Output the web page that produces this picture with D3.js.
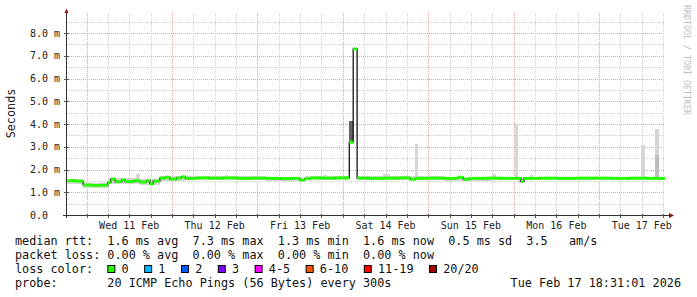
<!DOCTYPE html>
<html>
<head>
<meta charset="utf-8">
<script src="https://cdn.jsdelivr.net/npm/d3@7"></script>
<style>
body { margin: 0; background: #fff; }
svg { display: block; font-family: "DejaVu Sans Mono", monospace; }
text { white-space: pre; }
</style>
</head>
<body>
<svg id="chart" width="697" height="297"></svg>
<script>
// one week window, ends at the probe time
var startTime = new Date(2026, 1, 10, 18, 31, 1);
var endTime = new Date(2026, 1, 17, 18, 31, 1);
var spanHours = 168;

// median rtt (ms), step values, hours after startTime
var medHour = [0, 2.5, 4.5, 7.0, 9.5, 11.5, 12.3, 13.5, 15.4, 16.3, 18.6, 20.5, 22.4, 23.3, 24.2,
  26.1, 27.5, 28.9, 30.8, 32.2, 33.2, 36.5, 40, 44, 48, 52, 56, 60, 63, 65.4,
  66.8, 68.5, 72, 75.5, 79.3, 80.4, 81.5, 85, 89, 93, 96.4, 97.8, 102, 106, 109.8,
  111.3, 113.2, 118, 122, 127.5, 128.4, 133, 138, 143, 148, 153, 158, 163];
var medVal = [1.51, 1.49, 1.32, 1.30, 1.31, 1.43, 1.58, 1.47, 1.54, 1.47, 1.51, 1.45, 1.51, 1.37, 1.49,
  1.62, 1.66, 1.58, 1.63, 1.68, 1.61, 1.63, 1.62, 1.63, 1.61, 1.62, 1.61, 1.60, 1.61, 1.54,
  1.60, 1.63, 1.62, 1.63, 3.20, 7.30, 1.62, 1.61, 1.62, 1.63, 1.57, 1.61, 1.62, 1.61, 1.66,
  1.57, 1.61, 1.62, 1.61, 1.48, 1.61, 1.62, 1.61, 1.62, 1.62, 1.61, 1.62, 1.61];

// smoke (spread of the 20 pings), light layer, step values
var smokeHour = [0, 4.5, 11.5, 19.4, 20.4, 26.1, 33.2, 44.5, 45.3, 56, 65.4, 66.8, 72.3, 73.1, 79.3,
  81.5, 88.8, 90.7, 97.8, 98.5, 106, 119.3, 120.5, 125.9, 126.7, 128.4, 130.1, 131, 140, 161.2,
  162.4, 165.1, 166.3];
var smokeLo = [1.38, 1.20, 1.36, 1.36, 1.32, 1.50, 1.52, 1.52, 1.52, 1.50, 1.45, 1.52, 1.52, 1.52, 0,
  1.52, 1.52, 1.52, 1.52, 1.52, 1.51, 1.52, 1.52, 1.52, 1.40, 1.52, 1.52, 1.52, 1.52, 1.52,
  1.52, 1.52, 1.52];
var smokeHi = [1.60, 1.40, 1.62, 1.82, 1.60, 1.72, 1.70, 1.77, 1.70, 1.69, 1.62, 1.70, 1.77, 1.70, 0,
  1.70, 1.80, 1.70, 3.12, 1.70, 1.69, 1.80, 1.69, 4.00, 1.69, 1.69, 1.78, 1.69, 1.69, 3.08,
  1.69, 3.78, 1.69];

// denser smoke patches
var midStart = [165.1];
var midEnd = [166.3];
var midLo = [1.69];
var midHi = [2.64];
var darkStart = [79.3];
var darkEnd = [80.4];
var darkLo = [3.20];
var darkHi = [4.15];

// legend
var lossLabels = ["0", "1", "2", "3", "4-5", "6-10", "11-19", "20/20"];
var lossColors = ["#26ff00", "#00b8ff", "#0059ff", "#7e00ff", "#ff00ff", "#ff5500", "#ff0000", "#a10000"];
var legendLines = [
  "median rtt:  1.6 ms avg  7.3 ms max  1.3 ms min  1.6 ms now  0.5 ms sd  3.5   am/s",
  "packet loss: 0.00 % avg  0.00 % max  0.00 % min  0.00 % now",
  "loss color:",
  "probe:       20 ICMP Echo Pings (56 Bytes) every 300s"
];
var stampText = "Tue Feb 17 18:31:01 2026";

var svg = d3.select("#chart");
var plotLeft = 67, plotRight = 665, plotTop = 13, plotBottom = 215;

var x = d3.scaleTime().domain([startTime, endTime]).range([plotLeft, plotRight]);
var y = d3.scaleLinear().domain([0, 8]).range([plotBottom, 33]);

function at(h) {
  return new Date(+startTime + h * 3600e3);
}

// grid
var grid = svg.append("g");
var yGrid = d3.range(0.5, 8.51, 0.5);
grid.selectAll("line.h").data(yGrid).enter().append("line")
  .attr("x1", plotLeft).attr("x2", plotRight)
  .attr("y1", d => Math.round(y(d)) + 0.5).attr("y2", d => Math.round(y(d)) + 0.5)
  .attr("stroke", d => d % 1 === 0 ? "#e4a4a4" : "#cfcfcf")
  .attr("stroke-dasharray", "1,1");

var xGrid = d3.timeHour.every(6).range(startTime, endTime);
grid.selectAll("line.v").data(xGrid).enter().append("line")
  .attr("x1", d => Math.round(x(d)) + 0.5).attr("x2", d => Math.round(x(d)) + 0.5)
  .attr("y1", plotTop).attr("y2", plotBottom)
  .attr("stroke", d => d.getHours() === 0 ? "#e4a4a4" : "#cfcfcf")
  .attr("stroke-dasharray", "1,1");

var plot = svg.append("g");

// step bands
function bandRows(hours, lo, hi) {
  return hours.map(function(h, i) {
    return {t0: h, t1: i < hours.length - 1 ? hours[i + 1] : spanHours, lo: lo[i], hi: hi[i]};
  });
}
function drawBands(rows, color) {
  plot.append("g").selectAll("rect").data(rows.filter(d => d.hi > d.lo)).enter().append("rect")
    .attr("x", d => x(at(d.t0)))
    .attr("width", d => x(at(d.t1)) - x(at(d.t0)))
    .attr("y", d => y(d.hi))
    .attr("height", d => y(d.lo) - y(d.hi))
    .attr("fill", color)
    .attr("shape-rendering", "crispEdges");
}
drawBands(bandRows(smokeHour, smokeLo, smokeHi), "#d6d6d6");
drawBands(midStart.map((s, i) => ({t0: s, t1: midEnd[i], lo: midLo[i], hi: midHi[i]})), "#bdbdbd");
drawBands(darkStart.map((s, i) => ({t0: s, t1: darkEnd[i], lo: darkLo[i], hi: darkHi[i]})), "#646464");

// median: thin dark step line with loss-coloured segments on top
var medPts = medHour.map((h, i) => [x(at(h)), y(medVal[i])]);
medPts.push([x(endTime), y(medVal[medVal.length - 1])]);
plot.append("path")
  .attr("d", d3.line().curve(d3.curveStepAfter)(medPts))
  .attr("fill", "none").attr("stroke", "#000").attr("stroke-width", 1.2);

var medRows = bandRows(medHour, medVal, medVal);
plot.append("g").selectAll("path").data(medRows).enter().append("path")
  .attr("d", d => "M" + x(at(d.t0)) + "," + y(d.lo) + "H" + x(at(d.t1)))
  .attr("stroke", lossColors[0]).attr("stroke-width", 3).attr("fill", "none");

// axes
var axes = svg.append("g");
axes.append("line").attr("x1", 63).attr("x2", 670).attr("y1", plotBottom + 0.5).attr("y2", plotBottom + 0.5)
  .attr("stroke", "#333");
axes.append("line").attr("x1", plotLeft - 0.5).attr("x2", plotLeft - 0.5).attr("y1", 218).attr("y2", 12)
  .attr("stroke", "#333");
axes.selectAll("line.tx").data(xGrid).enter().append("line")
  .attr("x1", d => Math.round(x(d)) + 0.5).attr("x2", d => Math.round(x(d)) + 0.5)
  .attr("y1", plotBottom - 1).attr("y2", plotBottom + 3)
  .attr("stroke", "#555");
axes.selectAll("line.ty").data(d3.range(1, 8.1, 1)).enter().append("line")
  .attr("x1", plotLeft - 3).attr("x2", plotLeft + 2)
  .attr("y1", d => Math.round(y(d)) + 0.5).attr("y2", d => Math.round(y(d)) + 0.5)
  .attr("stroke", "#555");
axes.append("path").attr("d", "M64.5,13L66.5,8.5L68.5,13Z").attr("fill", "#8b1010");
axes.append("path").attr("d", "M669,213L674,215.5L669,218Z").attr("fill", "#8b1010");

// tick labels
svg.append("g").selectAll("text").data(d3.range(0, 8.1, 1)).enter().append("text")
  .attr("x", 30).attr("y", d => y(d) + 3.6)
  .attr("font-size", "10px").attr("fill", "#222")
  .text(d => d === 0 ? "0.0" : d.toFixed(1) + " m");

var days = d3.timeDay.range(d3.timeDay.ceil(startTime), endTime)
  .map(d => d3.timeHour.offset(d, 12)).filter(d => d < endTime);
svg.append("g").selectAll("text").data(days).enter().append("text")
  .attr("x", d => x(d)).attr("y", 229)
  .attr("text-anchor", "middle").attr("font-size", "10px").attr("fill", "#222")
  .text(d3.timeFormat("%a %d %b"));

svg.append("text").attr("transform", "translate(15,113.5) rotate(-90)")
  .attr("text-anchor", "middle").attr("font-size", "11.8px").attr("fill", "#222")
  .text("Seconds");
svg.append("text").attr("transform", "translate(684,5) rotate(90)")
  .attr("font-size", "8.3px").attr("fill", "#bdbdbd")
  .text("RRDTOOL / TOBI OETIKER");

// legend block
var cw = 11.8 * 0.602;
var legend = svg.append("g").attr("font-size", "11.8px").attr("fill", "#111");
legend.selectAll("text.l").data(legendLines).enter().append("text")
  .attr("x", 15).attr("y", (d, i) => 245 + i * 14)
  .attr("xml:space", "preserve")
  .text(d => d);
legend.append("text").attr("x", 681).attr("y", 245 + 3 * 14)
  .attr("text-anchor", "end").text(stampText);

var bx = 15 + 13 * cw;
lossLabels.forEach(function(lab, i) {
  legend.append("rect").attr("x", bx + 0.5).attr("y", 265.5).attr("width", 7).attr("height", 7)
    .attr("fill", lossColors[i]).attr("stroke", "#000");
  legend.append("text").attr("x", bx + 2 * cw).attr("y", 245 + 2 * 14).text(lab);
  bx += (lab.length + 4) * cw + 1.3;
});
</script>
</body>
</html>
